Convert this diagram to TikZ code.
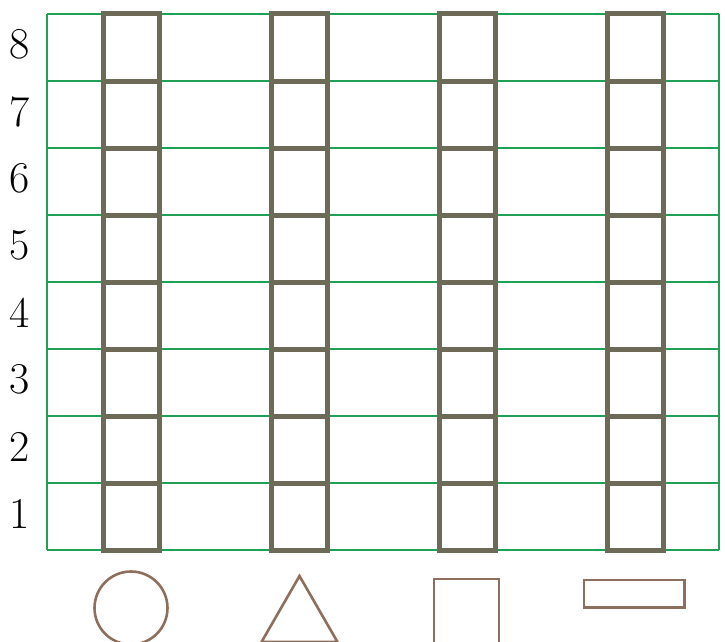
\documentclass[tikz,border=0pt]{standalone}
\definecolor{gridgreen}{HTML}{1FA055}
\definecolor{boxgray}{HTML}{6E6A58}
\definecolor{shapebrown}{HTML}{8E6E5C}
\begin{document}
\begin{tikzpicture}[x=1pt,y=-1pt,
  gridline/.style={draw=gridgreen,line width=1.1pt},
  cell/.style={draw=boxgray,line width=5pt},
  shapeline/.style={draw=shapebrown,line width=2.6pt},
  lab/.style={font=\fontsize{44}{46}\selectfont,inner sep=0pt,anchor=center}]
\useasboundingbox (0,0) rectangle (725,642);
% grid
\foreach \i in {0,...,8} \draw[gridline] (47,{14+67*\i}) -- (719,{14+67*\i});
\draw[gridline] (47,14) -- (47,550);
\draw[gridline] (719,14) -- (719,550);
% boxes
\foreach \c in {0,...,3}
  \foreach \r in {0,...,7}
    \draw[cell] ({103+168*\c},{14+67*\r}) rectangle ++(56,67);
% labels
\foreach \n in {1,...,8}
  \node[lab] (l\n) at (20,{550-67*\n+33.5-3}) {\n};
% shapes
\draw[shapeline] (131,608) circle (36.5);
\draw[shapeline] (261.5,642) -- (299.5,576) -- (337.5,642) -- cycle;
\draw[shapeline] (434,579) rectangle (499,644);
\draw[shapeline] (584,580) rectangle (684.5,607.5);
\end{tikzpicture}
\end{document}
